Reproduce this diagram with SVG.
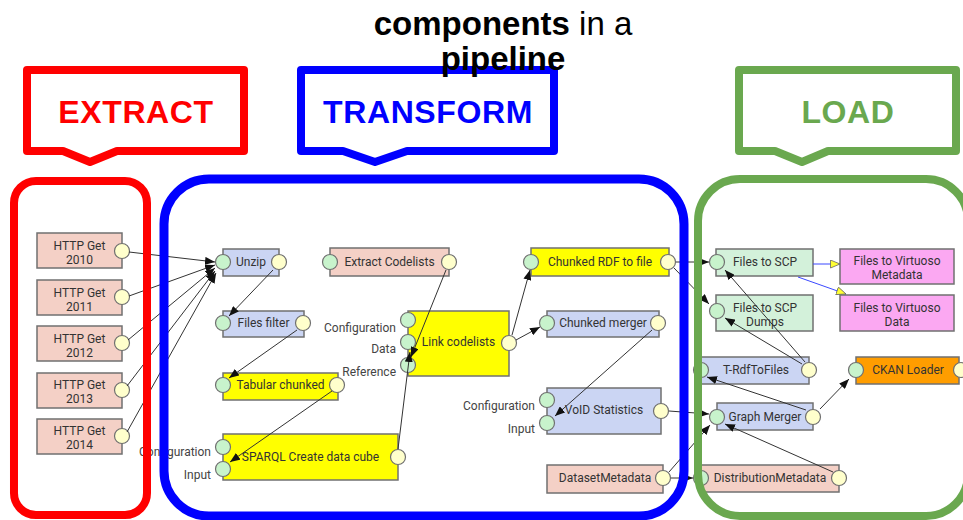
<svg xmlns="http://www.w3.org/2000/svg" width="963" height="520" viewBox="0 0 963 520">
<defs>
<marker id="ah" markerUnits="userSpaceOnUse" markerWidth="11" markerHeight="8" refX="10" refY="4" orient="auto"><path d="M0,0 L10,4 L0,8 z" fill="#111"/></marker>
<marker id="ay" markerUnits="userSpaceOnUse" markerWidth="11" markerHeight="9" refX="10" refY="4.5" orient="auto"><path d="M0.5,0.5 L10,4.5 L0.5,8.5 z" fill="#ffff33" stroke="#666" stroke-width="0.8"/></marker>
<style>
.box{stroke:#707070;stroke-width:1.5}
.sal{fill:#f4d0c6}.blu{fill:#cbd5f3}.yel{fill:#ffff00}.grn{fill:#d3f1da}.pnk{fill:#fba8f2}.org{fill:#ff9d00}
.in{fill:#c8f3cc;stroke:#707070;stroke-width:1.2}
.out{fill:#ffffcc;stroke:#707070;stroke-width:1.2}
.t{font-family:Roboto,"Liberation Sans",sans-serif;font-size:12px;fill:#333;text-anchor:middle}
.pl{font-family:Roboto,"Liberation Sans",sans-serif;font-size:12px;fill:#444;text-anchor:end}
.c{stroke:#333;stroke-width:1;fill:none;marker-end:url(#ah)}
.cb{stroke:#3b49ff;stroke-width:1;fill:none;marker-end:url(#ay)}
.cont{fill:none}
.hd{font-family:"Liberation Sans",Arial,sans-serif;font-size:32px;font-weight:bold;text-anchor:middle;letter-spacing:0.6px}
</style>
</defs>

<g id="nodes">
<g id="http2010"><rect class="box sal" x="37" y="233" width="85" height="35"/><text class="t" x="79.5" y="250">HTTP Get</text><text class="t" x="79.5" y="263.5">2010</text><circle class="out" cx="122" cy="251" r="7.5"/></g>
<g id="http2011"><rect class="box sal" x="37" y="280" width="85" height="35"/><text class="t" x="79.5" y="297">HTTP Get</text><text class="t" x="79.5" y="310.5">2011</text><circle class="out" cx="122" cy="297" r="7.5"/></g>
<g id="http2012"><rect class="box sal" x="37" y="326" width="85" height="35"/><text class="t" x="79.5" y="343">HTTP Get</text><text class="t" x="79.5" y="356.5">2012</text><circle class="out" cx="122" cy="343" r="7.5"/></g>
<g id="http2013"><rect class="box sal" x="37" y="373" width="85" height="35"/><text class="t" x="79.5" y="389">HTTP Get</text><text class="t" x="79.5" y="402.5">2013</text><circle class="out" cx="122" cy="390" r="7.5"/></g>
<g id="http2014"><rect class="box sal" x="37" y="419" width="85" height="35"/><text class="t" x="79.5" y="435">HTTP Get</text><text class="t" x="79.5" y="448.5">2014</text><circle class="out" cx="122" cy="436" r="7.5"/></g>

<g id="unzip"><rect class="box blu" x="223" y="249" width="56" height="27"/><text class="t" x="251" y="266">Unzip</text><circle class="in" cx="223" cy="262" r="7.5"/><circle class="out" cx="279" cy="262" r="7.5"/></g>
<g id="filesfilter"><rect class="box blu" x="223" y="311" width="81" height="26"/><text class="t" x="263.5" y="327">Files filter</text><circle class="in" cx="223" cy="323" r="7.5"/><circle class="out" cx="303" cy="323" r="7.5"/></g>
<g id="extractcodelists"><rect class="box sal" x="330" y="248" width="119" height="28"/><text class="t" x="389.5" y="266">Extract Codelists</text><circle class="in" cx="330" cy="262" r="7.5"/><circle class="out" cx="449" cy="262" r="7.5"/></g>
<g id="tabular"><rect class="box yel" x="223" y="373" width="115" height="27"/><text class="t" x="280.5" y="389">Tabular chunked</text><circle class="in" cx="223" cy="385" r="7.5"/><circle class="out" cx="337" cy="385" r="7.5"/></g>
<g id="sparql"><rect class="box yel" x="223" y="434" width="175" height="46"/><text class="t" x="310.5" y="461">SPARQL Create data cube</text><text class="pl" x="211" y="456">Configuration</text><text class="pl" x="211" y="479">Input</text><circle class="in" cx="223" cy="447" r="7.5"/><circle class="in" cx="223" cy="469" r="7.5"/><circle class="out" cx="398" cy="457" r="7.5"/></g>
<g id="linkcodelists"><rect class="box yel" x="408" y="311" width="101" height="65"/><text class="t" x="458.5" y="346">Link codelists</text><text class="pl" x="396" y="332">Configuration</text><text class="pl" x="396" y="353">Data</text><text class="pl" x="396" y="376">Reference</text><circle class="in" cx="408" cy="320" r="7.5"/><circle class="in" cx="408" cy="342" r="7.5"/><circle class="in" cx="408" cy="365" r="7.5"/><circle class="out" cx="509" cy="343" r="7.5"/></g>
<g id="chunkedrdf"><rect class="box yel" x="531" y="248" width="138" height="28"/><text class="t" x="600" y="266">Chunked RDF to file</text><circle class="in" cx="531" cy="262" r="7.5"/><circle class="out" cx="668" cy="262" r="7.5"/></g>
<g id="chunkedmerger"><rect class="box blu" x="547" y="311" width="112" height="26"/><text class="t" x="603" y="327">Chunked merger</text><circle class="in" cx="547" cy="323" r="7.5"/><circle class="out" cx="658" cy="323" r="7.5"/></g>
<g id="void"><rect class="box blu" x="547" y="388" width="114" height="46"/><text class="t" x="604" y="414">VoID Statistics</text><text class="pl" x="535" y="410">Configuration</text><text class="pl" x="535" y="433">Input</text><circle class="in" cx="547" cy="400" r="7.5"/><circle class="in" cx="547" cy="423" r="7.5"/><circle class="out" cx="661" cy="411" r="7.5"/></g>
<g id="datasetmetadata"><rect class="box sal" x="547" y="465" width="116" height="28"/><text class="t" x="605" y="482">DatasetMetadata</text><circle class="out" cx="663" cy="478" r="7.5"/></g>

<g id="filestoscp"><rect class="box grn" x="716" y="249" width="97" height="27"/><text class="t" x="765" y="266">Files to SCP</text><circle class="in" cx="717" cy="262" r="7.5"/></g>
<g id="filestoscpdumps"><rect class="box grn" x="716" y="295" width="97" height="36"/><text class="t" x="765" y="312">Files to SCP</text><text class="t" x="765" y="325.5">Dumps</text><circle class="in" cx="717" cy="311" r="7.5"/></g>
<g id="virtuosometa"><rect class="box pnk" x="840" y="249" width="114" height="35"/><text class="t" x="897" y="265">Files to Virtuoso</text><text class="t" x="897" y="278.5">Metadata</text></g>
<g id="virtuosodata"><rect class="box pnk" x="840" y="295" width="114" height="36"/><text class="t" x="897" y="312">Files to Virtuoso</text><text class="t" x="897" y="325.5">Data</text></g>
<g id="trdftofiles"><rect class="box blu" x="701" y="357" width="108" height="27"/><text class="t" x="756" y="374">T-RdfToFiles</text><circle class="in" cx="701" cy="370" r="7.5"/><circle class="out" cx="809" cy="370" r="7.5"/></g>
<g id="graphmerger"><rect class="box blu" x="717" y="403" width="96" height="27"/><text class="t" x="765" y="421">Graph Merger</text><circle class="in" cx="717" cy="417" r="7.5"/><circle class="out" cx="813" cy="417" r="7.5"/></g>
<g id="ckan"><rect class="box org" x="856" y="357" width="103" height="27"/><text class="t" x="908" y="374">CKAN Loader</text><circle class="in" cx="856" cy="370" r="7.5"/><circle class="out" cx="961" cy="370" r="7.5"/></g>
<g id="distributionmetadata"><rect class="box sal" x="701" y="465" width="138" height="27"/><text class="t" x="770" y="482">DistributionMetadata</text><circle class="in" cx="701" cy="478" r="7.5"/><circle class="out" cx="839" cy="478" r="7.5"/></g>
</g>

<g id="connectors">
<line class="c" x1="129" y1="252" x2="215" y2="262"/>
<line class="c" x1="129" y1="296" x2="215" y2="265"/>
<line class="c" x1="128" y1="340" x2="215" y2="268"/>
<line class="c" x1="127" y1="386" x2="215" y2="271"/>
<line class="c" x1="127" y1="432" x2="216" y2="273"/>
<line class="c" x1="273" y1="270" x2="229" y2="316"/>
<line class="c" x1="297" y1="330" x2="229" y2="378"/>
<line class="c" x1="332" y1="391" x2="230" y2="462"/>
<line class="c" x1="398" y1="449" x2="410" y2="352"/>
<line class="c" x1="446" y1="270" x2="411" y2="357"/>
<line class="c" x1="512" y1="335" x2="530" y2="270"/>
<line class="c" x1="516" y1="340" x2="540" y2="327"/>
<line class="c" x1="652" y1="330" x2="555" y2="416"/>
<line class="c" x1="676" y1="262" x2="709" y2="262"/>
<line class="c" x1="674" y1="268" x2="709" y2="304"/>
<line class="c" x1="669" y1="411" x2="709" y2="414"/>
<line class="c" x1="669" y1="472" x2="710" y2="425"/>
<line class="c" x1="671" y1="478" x2="693" y2="478"/>
<line class="c" x1="805" y1="362" x2="725" y2="270"/>
<line class="c" x1="802" y1="364" x2="725" y2="318"/>
<line class="c" x1="806" y1="410" x2="707" y2="377"/>
<line class="c" x1="820" y1="409" x2="849" y2="379"/>
<line class="c" x1="833" y1="472" x2="725" y2="424"/>
<line class="cb" x1="813" y1="264" x2="840" y2="264"/>
<line class="cb" x1="798" y1="277" x2="846" y2="294"/>
</g>

<g id="containers">
<rect class="cont" x="14" y="181" width="133" height="334" rx="22" stroke="#ff0000" stroke-width="8"/>
<rect class="cont" x="164" y="179" width="520" height="337" rx="45" stroke="#0000ff" stroke-width="9"/>
<rect class="cont" x="698" y="179" width="270" height="337" rx="42" stroke="#6aa84f" stroke-width="8"/>
</g>

<g id="extract-callout"><path d="M27,70 H244 V151 H117 L90,162 L63,151 H27 Z" fill="#fff" stroke="#ff0000" stroke-width="8" stroke-linejoin="round"/><text class="hd" x="136" y="123" fill="#ff0000">EXTRACT</text></g>
<g id="transform-callout"><path d="M301,70 H554 V151 H407 L375,162 L343,151 H301 Z" fill="#fff" stroke="#0000ff" stroke-width="8" stroke-linejoin="round"/><text class="hd" x="428" y="123" fill="#0000ff">TRANSFORM</text></g>
<g id="load-callout"><path d="M739,70 H956 V151 H828 L802,162 L775,151 H739 Z" fill="#fff" stroke="#6aa84f" stroke-width="8" stroke-linejoin="round"/><text class="hd" x="848" y="123" fill="#6aa84f">LOAD</text></g>

<g id="title" font-family="'Liberation Sans',Arial,sans-serif" font-size="33" fill="#000" text-anchor="middle">
<text x="503" y="35"><tspan font-weight="bold">components</tspan> in a</text>
<text x="503" y="70" font-weight="bold">pipeline</text>
</g>
</svg>
